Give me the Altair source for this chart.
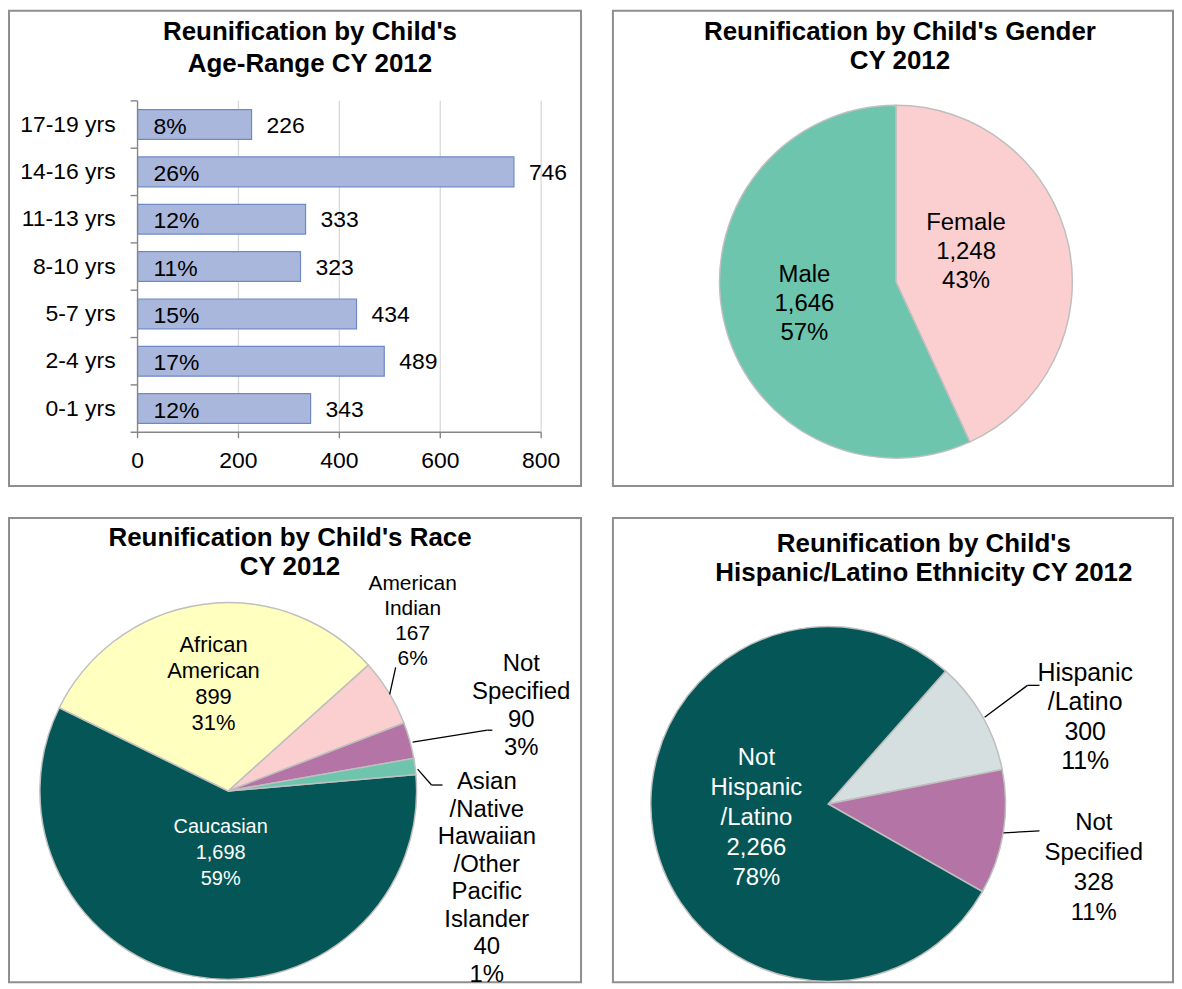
import math
import altair as alt
import pandas as pd

# ---------------- data ----------------
age_groups = ["17-19 yrs", "14-16 yrs", "11-13 yrs", "8-10 yrs", "5-7 yrs", "2-4 yrs", "0-1 yrs"]
age_counts = [226, 746, 333, 323, 434, 489, 343]
age_pcts = ["8%", "26%", "12%", "11%", "15%", "17%", "12%"]
age_ticks = [0, 200, 400, 600, 800]

gender_cats = ["Female", "Male"]
gender_counts = [1248, 1646]
gender_pcts = ["43%", "57%"]

race_cats = ["Caucasian", "African American", "American Indian", "Not Specified",
             "Asian/Native Hawaiian/Other Pacific Islander"]
race_label_lines = [["Caucasian"], ["African", "American"], ["American", "Indian"],
                    ["Not", "Specified"], ["Asian", "/Native", "Hawaiian", "/Other", "Pacific", "Islander"]]
race_counts = [1698, 899, 167, 90, 40]
race_pcts = ["59%", "31%", "6%", "3%", "1%"]

eth_cats = ["Hispanic/Latino", "Not Specified", "Not Hispanic/Latino"]
eth_label_lines = [["Hispanic", "/Latino"], ["Not", "Specified"], ["Not", "Hispanic", "/Latino"]]
eth_counts = [300, 328, 2266]
eth_pcts = ["11%", "11%", "78%"]

# ---------------- styles / layout ----------------
FONT = "Liberation Sans"
GAP = 30
W_LEFT, W_RIGHT = 574, 562
H_TOP, H_BOTTOM = 477, 466
TITLE_SIZE = 26
BAR_FONT = 23
BORDER = alt.ViewBackground(stroke="#8E8E8E", strokeWidth=2, fill="white")
one_row = pd.DataFrame({"k": [0]})


def fmt(n):
    return f"{n:,}"


def title_layer(lines, cx, y_first, lh):
    return alt.Chart(one_row).mark_text(
        text=lines, font=FONT, fontSize=TITLE_SIZE, fontWeight="bold", lineHeight=lh,
        align="center", baseline="middle", color="black"
    ).encode(x=alt.value(cx), y=alt.value(y_first))


# ---------------- panel 1 : bar chart ----------------
X0, X1 = 129, 534
Y0, Y1 = 90.5, 423
P_INNER = 0.37
AX = "#868686"
step = (Y1 - Y0) / len(age_groups)
tick_shift = P_INNER / 2 * step

bar_df = pd.DataFrame({"group": age_groups, "count": age_counts, "pct": age_pcts})
tick_df = pd.DataFrame({"v": age_ticks})
xs = alt.Scale(domain=[0, 800], range=[X0, X1], nice=False, zero=True)
ys = alt.Scale(domain=age_groups, range=[Y0, Y1], paddingInner=P_INNER, paddingOuter=P_INNER / 2)

grid = alt.Chart(tick_df).transform_filter(alt.datum.v > 0).mark_rule(
    color="#D9D9D9", strokeWidth=1.3
).encode(x=alt.X("v:Q", scale=xs, axis=None), y=alt.value(Y0), y2=alt.value(Y1))

bars = alt.Chart(bar_df).mark_bar(fill="#A8B7DB", stroke="#6F89C7", strokeWidth=1.2).encode(
    x=alt.X("count:Q", scale=xs, axis=None),
    y=alt.Y("group:N", sort=age_groups, scale=ys, axis=None),
)
pct_text = alt.Chart(bar_df).transform_calculate(zero="0").mark_text(
    align="left", baseline="middle", dx=16, dy=2, font=FONT, fontSize=BAR_FONT, color="black"
).encode(x=alt.X("zero:Q", axis=None), y=alt.Y("group:N", sort=age_groups, axis=None), text="pct:N")
val_text = alt.Chart(bar_df).mark_text(
    align="left", baseline="middle", dx=15, dy=1, font=FONT, fontSize=BAR_FONT, color="black"
).encode(x=alt.X("count:Q", axis=None), y=alt.Y("group:N", sort=age_groups, axis=None), text="count:Q")

# axes drawn through the scales
x_domain = alt.Chart(one_row).mark_rule(color=AX, strokeWidth=1.4).encode(
    x=alt.value(X0 - 7), x2=alt.value(X1), y=alt.value(Y1))
x_ticks = alt.Chart(tick_df).mark_rule(color=AX, strokeWidth=1.4).encode(
    x=alt.X("v:Q", axis=None), y=alt.value(Y1), y2=alt.value(Y1 + 6))
x_labels = alt.Chart(tick_df).mark_text(
    font=FONT, fontSize=BAR_FONT, color="black", align="center", baseline="middle"
).encode(x=alt.X("v:Q", axis=None), y=alt.value(Y1 + 29), text="v:Q")
y_domain = alt.Chart(one_row).mark_rule(color=AX, strokeWidth=1.4).encode(
    x=alt.value(X0), y=alt.value(Y0), y2=alt.value(Y1))
y_ticks = alt.Chart(bar_df).mark_rule(color=AX, strokeWidth=1.4, yOffset=-tick_shift).encode(
    y=alt.Y("group:N", sort=age_groups, bandPosition=0, axis=None),
    x=alt.value(X0 - 7), x2=alt.value(X0))
y_labels = alt.Chart(bar_df).mark_text(
    align="right", baseline="middle", font=FONT, fontSize=BAR_FONT, color="black"
).encode(y=alt.Y("group:N", sort=age_groups, axis=None), x=alt.value(X0 - 22), text="group:N")

panel1 = alt.layer(
    grid, bars, pct_text, val_text, x_domain, x_ticks, x_labels, y_domain, y_ticks, y_labels,
    title_layer(["Reunification by Child's", "Age-Range CY 2012"], 302, 21, 33),
).properties(width=W_LEFT, height=H_TOP, view=BORDER)


# ---------------- pie helper ----------------
def pie_panel(cats, counts, pcts, label_lines, colors, start_deg, center, radius,
              label_layout, title_lines, title_xy, title_lh, leaders, width, height):
    total = sum(counts)
    labels = ["\n".join(ll + [fmt(c), p]) for ll, c, p in zip(label_lines, counts, pcts)]
    df = pd.DataFrame({"cat": cats, "count": counts, "ord": list(range(len(cats))), "label": labels})
    a0 = math.radians(start_deg)
    tscale = alt.Scale(domain=[0, total], range=[a0, a0 + 2 * math.pi])
    cx, cy = center
    base = alt.Chart(df).transform_window(
        cum="sum(count)", sort=[alt.SortField("ord")], frame=[None, 0]
    ).transform_calculate(start="datum.cum - datum.count", mid="datum.cum - datum.count / 2")
    arcs = base.mark_arc(radius=radius, stroke="#BFBFBF", strokeWidth=1.5).encode(
        theta=alt.Theta("start:Q", scale=tscale),
        theta2="cum:Q",
        color=alt.Color("cat:N", scale=alt.Scale(domain=cats, range=colors), legend=None),
        x=alt.value(cx), y=alt.value(cy),
    )
    layers = [arcs]
    for i, (r, dx, dy, fs, lh, col) in enumerate(label_layout):
        nlines = labels[i].count("\n") + 1
        layers.append(
            base.transform_filter(alt.datum.ord == i).mark_text(
                radius=r, dx=dx, dy=dy - (nlines - 1) * lh / 2, font=FONT, fontSize=fs,
                lineHeight=lh, color=col, align="center", baseline="middle", lineBreak="\n"
            ).encode(theta=alt.Theta("mid:Q", scale=tscale), text="label:N",
                     x=alt.value(cx), y=alt.value(cy))
        )
    if leaders:
        ldf = pd.DataFrame(leaders, columns=["xa", "ya", "xb", "yb"])
        layers.append(
            alt.Chart(ldf).mark_rule(color="black", strokeWidth=1.3).encode(
                x=alt.X("xa:Q", scale=None, axis=None), y=alt.Y("ya:Q", scale=None, axis=None),
                x2="xb:Q", y2="yb:Q")
        )
    layers.append(title_layer(title_lines, title_xy[0], title_xy[1], title_lh))
    return alt.layer(*layers).properties(width=width, height=height, view=BORDER)


panel2 = pie_panel(
    gender_cats, gender_counts, gender_pcts, [["Female"], ["Male"]],
    ["#FBCFCF", "#6CC5AC"], 0, (284, 272), 177,
    [(72, 0, -14, 24, 29, "black"), (94, 0, 2, 24, 29, "black")],
    ["Reunification by Child's Gender", "CY 2012"], (288, 21), 30, [],
    W_RIGHT, H_TOP,
)

panel3 = pie_panel(
    race_cats, race_counts, race_pcts, race_label_lines,
    ["#045756", "#FFFFC0", "#FBCFCF", "#B474A6", "#6CC5AC"], 85, (220, 274), 189,
    [(63, 4, 0, 20, 26, "white"), (108, 0, 0, 22, 26, "black"),
     (250, -28, -39, 21, 25, "black"), (300, 5, -5, 24, 28, "black"),
     (300, -38, 127, 24, 27.6, "black")],
    ["Reunification by Child's Race", "CY 2012"], (282, 20), 29,
    [(382, 177, 388, 150), (405, 225, 480, 213), (480, 213, 485, 213),
     (410, 252, 424, 268), (424, 268, 435, 268)],
    W_LEFT, H_BOTTOM,
)

panel4 = pie_panel(
    eth_cats, eth_counts, eth_pcts, eth_label_lines,
    ["#D5DFE0", "#B474A6", "#045756"], 41.5, (216, 287), 178,
    [(280, 15, 52, 25, 29.5, "black"), (270, 0, 21, 24, 30, "black"),
     (74, 1, 2, 24, 30, "white")],
    ["Reunification by Child's", "Hispanic/Latino Ethnicity CY 2012"], (312, 26), 29.5,
    [(373, 200, 416, 168), (416, 168, 428, 168), (392, 316, 428, 314)],
    W_RIGHT, H_BOTTOM,
)

indep = dict(color="independent", theta="independent", x="independent", y="independent")
chart = alt.vconcat(
    alt.hconcat(panel1, panel2, spacing=GAP).resolve_scale(**indep),
    alt.hconcat(panel3, panel4, spacing=GAP).resolve_scale(**indep),
    spacing=GAP,
    padding=0,
).resolve_scale(**indep).configure_view(
    stroke="#8E8E8E", strokeWidth=2, fill="white"
).configure(font=FONT)

chart.save("out.html", embed_options={"renderer": "svg", "actions": False})
